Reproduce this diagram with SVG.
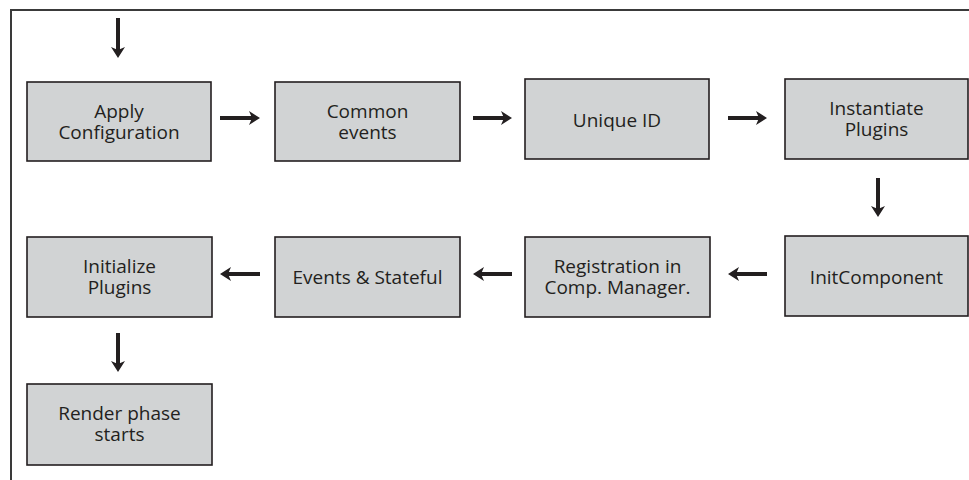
<svg xmlns="http://www.w3.org/2000/svg" width="969" height="480" viewBox="0 0 969 480">
<defs>
<style>
.box{fill:#d1d3d4;stroke:#231f20;stroke-width:1.6}
.t{font-family:"Open Sans","Liberation Sans",sans-serif;font-size:19px;fill:#231f20;text-anchor:middle}
.c{stroke:#231f20;stroke-width:4;fill:none;marker-end:url(#ah)}
</style>
<marker id="ah" markerUnits="userSpaceOnUse" markerWidth="12" markerHeight="14" refX="7" refY="7" orient="auto" overflow="visible">
<path d="M0,0 L11,7 L0,14 L3,7 Z" fill="#231f20"/>
</marker>
</defs>
<rect width="969" height="480" fill="#fff"/>
<rect x="11" y="10" width="980" height="490" fill="none" stroke="#3a3a3a" stroke-width="2"/>
<g id="n1"><rect class="box" x="27" y="82" width="184" height="79"/><text class="t" x="119" y="118"><tspan x="119">Apply</tspan><tspan x="119" dy="21">Configuration</tspan></text></g>
<g id="n2"><rect class="box" x="275" y="82" width="185" height="79"/><text class="t" x="367.5" y="118"><tspan x="367.5">Common</tspan><tspan x="367.5" dy="21">events</tspan></text></g>
<g id="n3"><rect class="box" x="525" y="79" width="184" height="80"/><text class="t" x="617" y="126.5">Unique ID</text></g>
<g id="n4"><rect class="box" x="785" y="79" width="183" height="80"/><text class="t" x="876.5" y="115"><tspan x="876.5">Instantiate</tspan><tspan x="876.5" dy="21">Plugins</tspan></text></g>
<g id="n5"><rect class="box" x="785" y="236" width="183" height="80"/><text class="t" x="876.5" y="283.5">InitComponent</text></g>
<g id="n6"><rect class="box" x="525" y="237" width="185" height="80"/><text class="t" x="617.5" y="273"><tspan x="617.5">Registration in</tspan><tspan x="617.5" dy="21">Comp. Manager.</tspan></text></g>
<g id="n7"><rect class="box" x="275" y="237" width="185" height="80"/><text class="t" x="367.5" y="284">Events &amp; Stateful</text></g>
<g id="n8"><rect class="box" x="27" y="237" width="185" height="80"/><text class="t" x="119.5" y="273"><tspan x="119.5">Initialize</tspan><tspan x="119.5" dy="21">Plugins</tspan></text></g>
<g id="n9"><rect class="box" x="27" y="384" width="185" height="81"/><text class="t" x="119.5" y="420"><tspan x="119.5">Render phase</tspan><tspan x="119.5" dy="21">starts</tspan></text></g>
<g id="connectors">
<path class="c" d="M118,18 V54"/>
<path class="c" d="M220,118 H256"/>
<path class="c" d="M473,118 H508"/>
<path class="c" d="M728,118 H763"/>
<path class="c" d="M878,178 V213"/>
<path class="c" d="M767,274 H732"/>
<path class="c" d="M512,274 H477"/>
<path class="c" d="M260,274 H224"/>
<path class="c" d="M118,333 V368"/>
</g>
</svg>
